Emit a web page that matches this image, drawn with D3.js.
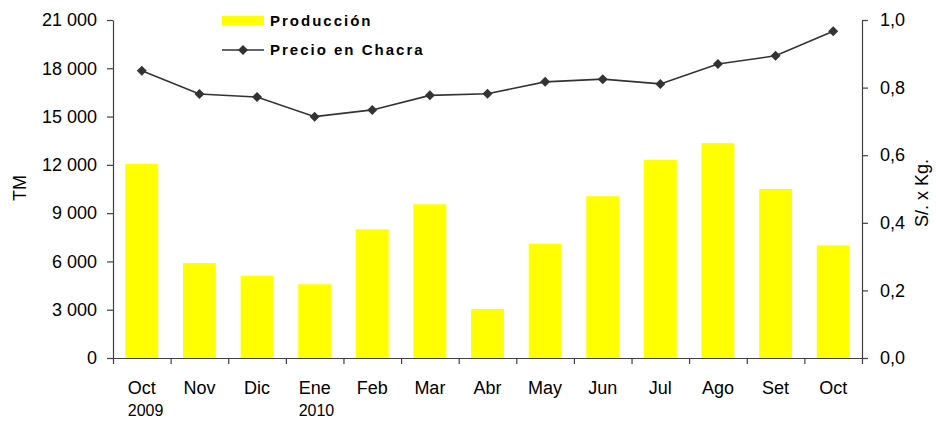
<!DOCTYPE html>
<html>
<head>
<meta charset="utf-8">
<script src="https://cdn.jsdelivr.net/npm/d3@7"></script>
<style>
  body { margin: 0; background: #fff; }
  text { font-family: "Liberation Sans", Arial, sans-serif; fill: #000; }
</style>
</head>
<body>
<div id="chart"></div>
<script>
// data
var months = ["Oct", "Nov", "Dic", "Ene", "Feb", "Mar", "Abr", "May", "Jun", "Jul", "Ago", "Set", "Oct"];
var years = ["2009", "", "", "2010", "", "", "", "", "", "", "", "", ""];
var produccion = [12050, 5900, 5100, 4580, 8000, 9550, 3040, 7100, 10050, 12300, 13350, 10500, 7000];
var precio = [0.850, 0.781, 0.772, 0.714, 0.734, 0.777, 0.782, 0.817, 0.825, 0.811, 0.870, 0.894, 0.967];
var leftTicks = [0, 3000, 6000, 9000, 12000, 15000, 18000, 21000];
var rightTicks = [0, 0.2, 0.4, 0.6, 0.8, 1.0];

var width = 936, height = 423;
var margin = {top: 20, right: 74, bottom: 65, left: 113};
var axisCol = "#404040";

var loc = d3.formatLocale({decimal: ",", thousands: " ", grouping: [3], currency: ["", ""]});

var svg = d3.select("#chart").append("svg")
  .attr("width", width)
  .attr("height", height);

var x0 = margin.left, x1 = width - margin.right;
var y0 = height - margin.bottom, y1 = margin.top;

var idx = d3.range(months.length);
var xBand = d3.scaleBand().domain(idx).range([x0, x1]).paddingInner(0.43).paddingOuter(0.215);
var xEdge = d3.scaleLinear().domain([0, months.length]).range([x0, x1]);
var yL = d3.scaleLinear().domain([0, 21000]).range([y0, y1]);
var yR = d3.scaleLinear().domain([0, 1]).range([y0, y1]);

// bars
svg.append("g").selectAll("rect")
  .data(produccion)
  .enter().append("rect")
  .attr("x", function(d, i) { return xBand(i); })
  .attr("y", function(d) { return yL(d); })
  .attr("width", xBand.bandwidth())
  .attr("height", function(d) { return y0 - yL(d); })
  .attr("fill", "#ffff00");

// axes
var gl = svg.append("g").attr("transform", "translate(" + x0 + ",0)")
  .call(d3.axisLeft(yL).tickValues(leftTicks).tickFormat(loc.format(",d")).tickSize(6).tickSizeOuter(0).tickPadding(10));
var gr = svg.append("g").attr("transform", "translate(" + x1 + ",0)")
  .call(d3.axisRight(yR).tickValues(rightTicks).tickFormat(loc.format(".1f")).tickSize(6).tickSizeOuter(0).tickPadding(12));
var gb = svg.append("g").attr("transform", "translate(0," + y0 + ")")
  .call(d3.axisBottom(xEdge).tickValues(d3.range(months.length + 1)).tickFormat("").tickSize(6).tickSizeOuter(0));

[gl, gr, gb].forEach(function(g) {
  g.selectAll("path, line").attr("stroke", axisCol).attr("stroke-width", 1.2);
  g.selectAll("text").style("font-size", "18px").attr("fill", "#000")
    .style("font-family", "'Liberation Sans', Arial, sans-serif");
});

// month and year labels
var lab = svg.append("g");
idx.forEach(function(i) {
  var cx = xBand(i) + xBand.bandwidth() / 2;
  var t = lab.append("text").attr("x", cx).attr("y", 394)
    .attr("text-anchor", "middle").style("font-size", "18px").text(months[i]);
  if (years[i]) {
    var w = t.node().getComputedTextLength();
    lab.append("text").attr("x", cx - w / 2).attr("y", 416)
      .style("font-size", "16px").text(years[i]);
  }
});

// axis titles
svg.append("text").attr("transform", "translate(26,188) rotate(-90)")
  .attr("text-anchor", "middle").style("font-size", "18px").text("TM");
svg.append("text").attr("transform", "translate(928,193) rotate(-90)")
  .attr("text-anchor", "middle").style("font-size", "18px").text("S/. x Kg.");

// price line
var line = d3.line()
  .x(function(d, i) { return xBand(i) + xBand.bandwidth() / 2; })
  .y(function(d) { return yR(d); });
svg.append("path").datum(precio)
  .attr("d", line).attr("fill", "none").attr("stroke", "#333").attr("stroke-width", 1.6);

var diamond = d3.symbol().type(d3.symbolSquare).size(50);
svg.append("g").selectAll("path")
  .data(precio)
  .enter().append("path")
  .attr("d", diamond)
  .attr("transform", function(d, i) {
    return "translate(" + (xBand(i) + xBand.bandwidth() / 2) + "," + yR(d) + ") rotate(45)";
  })
  .attr("fill", "#333");

// legend
var leg = svg.append("g");
leg.append("rect").attr("x", 222).attr("y", 16).attr("width", 42).attr("height", 9).attr("fill", "#ffff00");
leg.append("text").attr("x", 270).attr("y", 26)
  .style("font-size", "15px").style("font-weight", "bold").style("letter-spacing", "2px").text("Producción");
leg.append("line").attr("x1", 222).attr("x2", 264).attr("y1", 50).attr("y2", 50)
  .attr("stroke", "#333").attr("stroke-width", 1.6);
leg.append("path").attr("d", diamond).attr("transform", "translate(243,50) rotate(45)").attr("fill", "#333");
leg.append("text").attr("x", 270).attr("y", 55)
  .style("font-size", "15px").style("font-weight", "bold").style("letter-spacing", "2px").text("Precio en Chacra");
</script>
</body>
</html>
